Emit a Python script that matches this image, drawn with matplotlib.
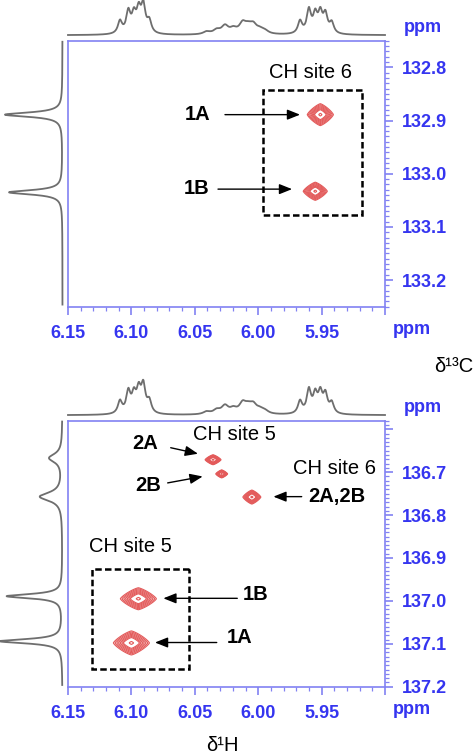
import numpy as np
import matplotlib
matplotlib.use('Agg')
import matplotlib.pyplot as plt
from matplotlib.patches import Rectangle

plt.rcParams['font.family'] = ['Liberation Sans', 'DejaVu Sans']

# ---- data ----
# 1H projection (same trace on both panels): shift (ppm), height, half width
h1_shift = [6.1090, 6.1024, 6.0980, 6.0942, 6.0906, 6.0859,
            6.0406, 6.0327, 6.0262, 6.0196, 6.0122, 6.0078, 6.0038, 5.9986, 5.9946,
            5.9670, 5.9600, 5.9550, 5.9510, 5.9470, 5.9420]
h1_height = [0.38, 0.64, 0.52, 0.64, 0.80, 0.36,
             0.08, 0.12, 0.24, 0.14, 0.30, 0.18, 0.24, 0.11, 0.08,
             0.38, 0.70, 0.54, 0.58, 0.55, 0.32]
h1_hwhm = [0.0020] * 6 + [0.0033] * 9 + [0.0020] * 6

# 13C projections
c13_top_shift = [132.889, 133.035]
c13_top_height = [0.92, 0.855]
c13_top_hwhm = [0.005, 0.005]

c13_bot_shift = [136.667, 136.757, 136.989, 137.094]
c13_bot_height = [0.21, 0.36, 0.89, 1.0]
c13_bot_hwhm = [0.012, 0.012, 0.006, 0.006]

# 2D cross peaks: 1H shift, 13C shift, half sizes
top_peak_h = [5.951, 5.955]
top_peak_c = [132.889, 133.033]
top_peak_wh = [0.0103, 0.0095]
top_peak_wc = [0.0206, 0.0170]

bot_peak_h = [6.0356, 6.0288, 6.0050, 6.0945, 6.1000]
bot_peak_c = [136.671, 136.704, 136.758, 136.995, 137.098]
bot_peak_wh = [0.0063, 0.0047, 0.0071, 0.0142, 0.0142]
bot_peak_wc = [0.0116, 0.0093, 0.0163, 0.0256, 0.0280]

x_ticks = [6.15, 6.10, 6.05, 6.00, 5.95, 5.90]
x_labels = ['6.15', '6.10', '6.05', '6.00', '5.95', '']
top_yticks = [132.8, 132.9, 133.0, 133.1, 133.2]
top_ylabels = ['132.8', '132.9', '133.0', '133.1', '133.2']
bot_yticks = [136.6, 136.7, 136.8, 136.9, 137.0, 137.1, 137.2]
bot_ylabels = ['', '136.7', '136.8', '136.9', '137.0', '137.1', '137.2']

W, H = 474, 754
SPINE = '#8282f2'
TICKC = '#3535f0'
RED = '#e35a5a'
GREY = '#6e6e6e'


def rect(x0, y0, x1, y1):
    return [x0 / W, 1 - y1 / H, (x1 - x0) / W, (y1 - y0) / H]


def lorentz(x, shifts, heights, hwhm):
    y = np.zeros_like(x)
    for s, h, w in zip(shifts, heights, hwhm):
        y += h / (1 + ((x - s) / w) ** 2)
    return y


fig = plt.figure(figsize=(W / 100, H / 100), dpi=100)


def panel(top, bottom, ylim, yticks, ylabels, c_shift, c_height, c_hwhm,
          ph, pc, pwh, pwc):
    ax = fig.add_axes(rect(68, top, 385, bottom))
    ax.set_xlim(6.15, 5.90)
    ax.set_ylim(ylim[1], ylim[0])
    for s in ax.spines.values():
        s.set_color(SPINE)
        s.set_linewidth(1.2)
    ax.yaxis.tick_right()
    ax.set_xticks(x_ticks)
    ax.set_xticklabels(x_labels)
    ax.set_xticks(np.arange(5.90, 6.1501, 0.01), minor=True)
    ax.set_yticks(yticks)
    ax.set_yticklabels(ylabels)
    ax.set_yticks(np.arange(ylim[0], ylim[1] + 0.0001, 0.01), minor=True)
    ax.tick_params(which='both', direction='out', color=SPINE,
                   labelcolor=TICKC, labelsize=13)
    ax.tick_params(which='major', length=6, width=1.2)
    ax.tick_params(which='minor', length=3, width=0.9)
    ax.tick_params(axis='x', pad=7)
    ax.tick_params(axis='y', pad=6)
    for lab in ax.get_xticklabels() + ax.get_yticklabels():
        lab.set_fontweight('bold')

    # cross peaks
    gx = np.linspace(5.90, 6.15, 900)
    gy = np.linspace(ylim[0], ylim[1], 900)
    X, Y = np.meshgrid(gx, gy)
    Z = np.zeros_like(X)
    for x0, y0, wx, wy in zip(ph, pc, pwh, pwc):
        r = (np.abs(X - x0) / wx) ** 1.25 + (np.abs(Y - y0) / wy) ** 1.25
        Z = np.maximum(Z, np.exp(-2.3 * r))
    levels = [0.1, 0.13, 0.17, 0.22, 0.28, 0.35, 0.43, 0.85]
    ax.contour(X, Y, Z, levels, colors=RED, linewidths=0.8)

    # 1H projection on top
    axt = fig.add_axes(rect(68, top - 41, 385, top - 5.5))
    hx = np.linspace(5.90, 6.15, 3000)
    hy = lorentz(hx, h1_shift, h1_height, h1_hwhm)
    axt.plot(hx, hy, color=GREY, lw=1.3, clip_on=False)
    axt.set_xlim(6.15, 5.90)
    axt.set_ylim(0, hy.max())
    axt.axis('off')

    # 13C projection on the left
    axl = fig.add_axes(rect(0, top, 62.5, bottom))
    cy = np.linspace(ylim[0] + 0.002, ylim[1] - 0.004, 3000)
    cx = lorentz(cy, c_shift, c_height, c_hwhm)
    axl.plot(cx, cy, color=GREY, lw=1.3, clip_on=False)
    axl.set_xlim(1.0, 0.0)
    axl.set_ylim(ylim[1], ylim[0])
    axl.axis('off')
    return ax


def arrow(ax, tail, head):
    ax.annotate('', xy=head, xytext=tail,
                arrowprops=dict(arrowstyle='-|>,head_length=0.55,head_width=0.22',
                                color='black', lw=1.0, mutation_scale=14,
                                shrinkA=0, shrinkB=0))


def dbox(ax, x0, x1, y0, y1):
    ax.add_patch(Rectangle((x1, y0), x0 - x1, y1 - y0, fill=False,
                           ec='black', lw=1.8, ls=(0, (2.6, 1.3))))


LS = 14.5

# ---- top panel ----
ax1 = panel(40.7, 306.7, (132.75, 133.25), top_yticks, top_ylabels,
            c13_top_shift, c13_top_height, c13_top_hwhm,
            top_peak_h, top_peak_c, top_peak_wh, top_peak_wc)
dbox(ax1, 5.9965, 5.918, 132.842, 133.078)
ax1.text(5.959, 132.809, 'CH site 6', fontsize=LS, ha='center', va='center')
ax1.text(6.0475, 132.889, '1A', fontsize=LS, fontweight='bold', ha='center', va='center')
ax1.text(6.0485, 133.028, '1B', fontsize=LS, fontweight='bold', ha='center', va='center')
arrow(ax1, (6.0262, 132.889), (5.967, 132.889))
arrow(ax1, (6.0317, 133.029), (5.9733, 133.029))

# ---- bottom panel ----
ax2 = panel(420.7, 686.7, (136.58, 137.2), bot_yticks, bot_ylabels,
            c13_bot_shift, c13_bot_height, c13_bot_hwhm,
            bot_peak_h, bot_peak_c, bot_peak_wh, bot_peak_wc)
dbox(ax2, 6.1313, 6.0543, 136.926, 137.158)
ax2.text(6.019, 136.613, 'CH site 5', fontsize=LS, ha='center', va='center')
ax2.text(5.9402, 136.692, 'CH site 6', fontsize=LS, ha='center', va='center')
ax2.text(6.101, 136.874, 'CH site 5', fontsize=LS, ha='center', va='center')
ax2.text(6.0893, 136.632, '2A', fontsize=LS, fontweight='bold', ha='center', va='center')
ax2.text(6.0869, 136.732, '2B', fontsize=LS, fontweight='bold', ha='center', va='center')
ax2.text(5.938, 136.757, '2A,2B', fontsize=LS, fontweight='bold', ha='center', va='center')
ax2.text(6.0021, 136.985, '1B', fontsize=LS, fontweight='bold', ha='center', va='center')
ax2.text(6.0144, 137.086, '1A', fontsize=LS, fontweight='bold', ha='center', va='center')
arrow(ax2, (6.069, 136.643), (6.0475, 136.657))
arrow(ax2, (6.0714, 136.725), (6.0438, 136.710))
arrow(ax2, (5.9657, 136.757), (5.988, 136.757))
arrow(ax2, (6.0165, 136.994), (6.0748, 136.994))
arrow(ax2, (6.0327, 137.097), (6.0814, 137.097))

# ppm unit labels and axis titles
for x, y in [(423, 28), (412, 330), (423, 408), (412, 710)]:
    fig.text(x / W, 1 - y / H, 'ppm', color=TICKC, fontsize=13,
             fontweight='bold', ha='center', va='center')
fig.text(473 / W, 1 - 367 / H, 'δ¹³C', fontsize=LS, ha='right', va='center')
fig.text(222 / W, 1 - 736 / H, 'δ¹H', fontsize=LS, ha='center', va='top')

fig.savefig('out.png', dpi=100)
